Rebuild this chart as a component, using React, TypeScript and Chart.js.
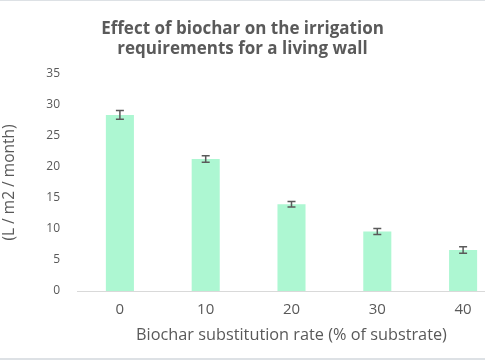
import React, { useEffect, useRef } from "react";
import { Chart, registerables } from "chart.js";

Chart.register(...registerables);

const categories = ["0", "10", "20", "30", "40"];
const irrigation = [28.4, 21.3, 14.0, 9.6, 6.6];
const errors = [0.7, 0.53, 0.45, 0.48, 0.53];
const titleLines = ["Effect of biochar on the irrigation", "requirements for a living wall"];
const xTitle = "Biochar substitution rate (% of substrate)";
const yTitle = "(L / m2 / month)";

const FONT = "'Open Sans', sans-serif";
const TEXT = "#595959";

const titlePlugin = {
  id: "customTitle",
  afterDraw(chart: any) {
    const ctx = chart.ctx;
    ctx.save();
    ctx.font = `bold 17px ${FONT}`;
    ctx.fillStyle = "#5a5a5a";
    ctx.textAlign = "center";
    ctx.textBaseline = "alphabetic";
    ctx.fillText(titleLines[0], 242.5, 34);
    ctx.fillText(titleLines[1], 242.5, 54);
    ctx.restore();
  },
};

const errorBarPlugin = {
  id: "errorBars",
  afterDatasetsDraw(chart: any) {
    const ctx = chart.ctx;
    const xs = chart.scales.x;
    const ys = chart.scales.y;
    ctx.save();
    ctx.strokeStyle = "#5a5a5a";
    ctx.lineWidth = 1.5;
    irrigation.forEach((v, i) => {
      const x = xs.getPixelForValue(i);
      const yt = ys.getPixelForValue(v + errors[i]);
      const yb = ys.getPixelForValue(v - errors[i]);
      ctx.beginPath();
      ctx.moveTo(x, yt);
      ctx.lineTo(x, yb);
      ctx.moveTo(x - 4, yt);
      ctx.lineTo(x + 4, yt);
      ctx.moveTo(x - 4, yb);
      ctx.lineTo(x + 4, yb);
      ctx.stroke();
    });
    ctx.restore();
  },
};

export default function App() {
  const ref = useRef<HTMLCanvasElement>(null);
  useEffect(() => {
    if (!ref.current) return;
    const chart = new Chart(ref.current, {
      type: "bar",
      data: {
        labels: categories,
        datasets: [
          {
            data: irrigation,
            backgroundColor: "#adf7d2",
            categoryPercentage: 1,
            barPercentage: 0.327,
          },
        ],
      },
      options: {
        animation: false,
        responsive: false,
        devicePixelRatio: 1,
        layout: { padding: { top: 74, right: 0, bottom: 0, left: 0 } },
        plugins: { legend: { display: false }, tooltip: { enabled: false }, title: { display: false } },
        scales: {
          x: {
            grid: { display: false, drawTicks: false },
            border: { display: true, color: "#d9d9d9", width: 1 },
            ticks: { color: TEXT, font: { family: FONT, size: 15 }, padding: 10 },
            title: {
              display: true,
              text: xTitle,
              color: TEXT,
              font: { family: FONT, size: 16.3 },
              padding: { top: 0, bottom: 15 },
            },
            afterFit(scale: any) {
              scale.height = 69;
            },
          },
          y: {
            min: 0,
            max: 35,
            grid: { display: false, drawTicks: false },
            border: { display: false },
            ticks: { stepSize: 5, color: TEXT, font: { family: FONT, size: 12 }, padding: 17 },
            title: {
              display: true,
              text: yTitle,
              color: TEXT,
              font: { family: FONT, size: 15.5 },
              padding: { top: 0, bottom: 0 },
            },
            afterFit(scale: any) {
              scale.width = 77;
            },
          },
        },
      },
      plugins: [titlePlugin, errorBarPlugin],
    });
    return () => chart.destroy();
  }, []);
  return (
    <div style={{ position: "absolute", left: 0, top: 0, width: 485, height: 360, overflow: "hidden", background: "#fff" }}>
      <canvas ref={ref} width={506} height={360} style={{ position: "absolute", left: 0, top: 0 }} />
      <div style={{ position: "absolute", left: 0, top: 0, width: 485, height: 1, background: "#dde1e5" }} />
      <div style={{ position: "absolute", left: 0, top: 358, width: 485, height: 2, background: "#dde1e5" }} />
    </div>
  );
}
